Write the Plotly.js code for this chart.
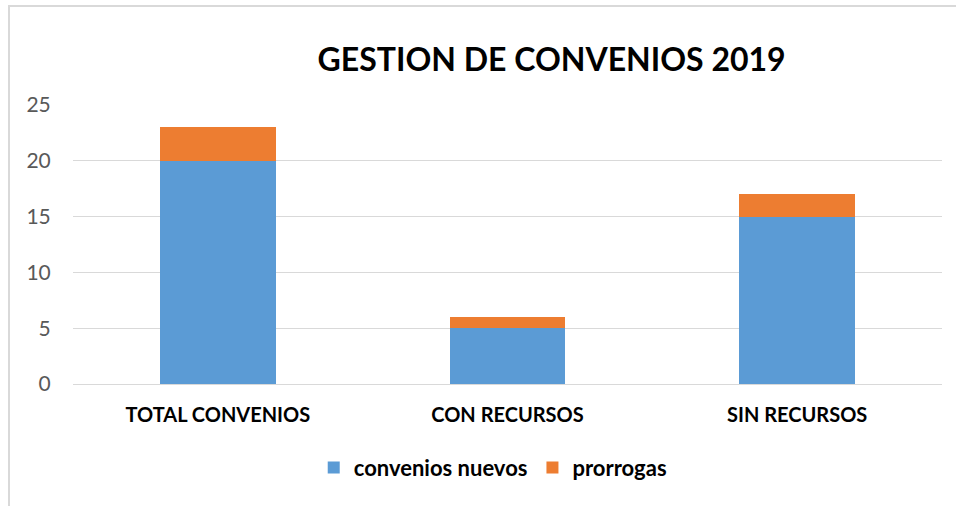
<!DOCTYPE html>
<html>
<head>
<meta charset="utf-8">
<script src="https://cdn.plot.ly/plotly-3.0.1.min.js"></script>
<style>
  html, body { margin: 0; padding: 0; background: #fff; }
  #chart { width: 956px; height: 506px; }
  #frame { position: absolute; left: 8px; top: 5px; width: 1000px; height: 1000px;
           border-left: 2px solid #d9d9d9; border-top: 2px solid #d9d9d9; pointer-events: none; }
</style>
</head>
<body>
<div id="chart"></div>
<div id="frame"></div>
<script>
const categories = ["TOTAL CONVENIOS", "CON RECURSOS", "SIN RECURSOS"];
const nuevos = [20, 5, 15];
const prorrogas = [3, 1, 2];
const yTicks = [0, 5, 10, 15, 20, 25];

const font = "Lato, 'Open Sans', sans-serif";

const data = [
  { type: "bar", name: "convenios nuevos", x: categories, y: nuevos,
    marker: { color: "#5b9bd5" }, hoverinfo: "y" },
  { type: "bar", name: "prorrogas", x: categories, y: prorrogas,
    marker: { color: "#ed7d31" }, hoverinfo: "y" }
];

const layout = {
  width: 956, height: 506,
  barmode: "stack",
  bargap: 0.6,
  paper_bgcolor: "#fff", plot_bgcolor: "#fff",
  margin: { l: 73, r: 14, t: 105, b: 122 },
  font: { family: font, color: "#595959" },
  title: { text: "<b>GESTION DE CONVENIOS 2019</b>", x: 0.577, xanchor: "center",
           y: 0.882, yanchor: "middle",
           font: { family: font, size: 32, color: "#000" } },
  xaxis: { type: "category", showgrid: false, showline: false, zeroline: false,
           ticks: "outside", ticklen: 13, tickcolor: "rgba(0,0,0,0)",
           tickfont: { family: font, size: 20, color: "#000", weight: "bold" } },
  yaxis: { range: [0, 25], tickvals: yTicks, showgrid: true, gridcolor: "#d9d9d9", gridwidth: 1,
           zeroline: true, zerolinecolor: "#d9d9d9", zerolinewidth: 1, showline: false,
           ticks: "outside", ticklen: 17, tickcolor: "rgba(0,0,0,0)",
           tickfont: { family: font, size: 21, color: "#595959" } },
  legend: { orientation: "h", x: 0.483, xanchor: "center", y: -0.30, yanchor: "middle",
            font: { family: font, size: 22, color: "#000", weight: "bold" },
            itemwidth: 30, traceorder: "normal" },
  showlegend: true
};

Plotly.newPlot("chart", data, layout, { displayModeBar: false, staticPlot: true });
</script>
</body>
</html>
